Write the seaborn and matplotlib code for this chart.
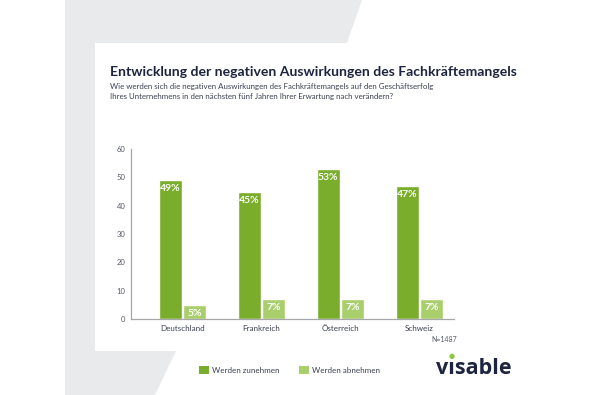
import pandas as pd
import seaborn as sns
import matplotlib.pyplot as plt
from matplotlib.patches import Polygon, Patch

# --- data ---
countries = ['Deutschland', 'Frankreich', 'Österreich', 'Schweiz']
zunehmen = [49, 45, 53, 47]
abnehmen = [5, 7, 7, 7]
series_names = ['Werden zunehmen', 'Werden abnehmen']

DARK = '#7aad2b'
LIGHT = '#a9cf6c'
NAVY = '#1c2440'
GRAY_BG = '#e9eaec'

df = pd.DataFrame({
    'Land': countries * 2,
    'Anteil': zunehmen + abnehmen,
    'Entwicklung': [series_names[0]] * len(countries) + [series_names[1]] * len(countries),
})

sns.set_theme(style='white')
plt.rcParams['font.family'] = ['Lato', 'DejaVu Sans']

W, H = 600, 395
fig = plt.figure(figsize=(W / 100, H / 100), dpi=100)
fig.patch.set_facecolor('white')


def px(x, y):
    # pixel coords (top-left origin) -> figure fraction
    return (x / W, 1 - y / H)


# gray frame shape behind the white card
frame = [(65, 0), (362, 0), (347, 43), (95, 43), (95, 351), (176, 351), (155, 395), (65, 395)]
fig.patches.append(Polygon([px(*p) for p in frame], closed=True, transform=fig.transFigure,
                           facecolor=GRAY_BG, edgecolor='none', zorder=0))

# --- title block ---
fig.text(*px(110, 72), 'Entwicklung der negativen Auswirkungen des Fachkräftemangels',
         fontsize=10.1, fontweight='bold', color=NAVY, va='center', ha='left')
fig.text(*px(110, 87), 'Wie werden sich die negativen Auswirkungen des Fachkräftemangels auf den Geschäftserfolg',
         fontsize=5.7, color='#3b4052', va='center', ha='left')
fig.text(*px(110, 97), 'Ihres Unternehmens in den nächsten fünf Jahren Ihrer Erwartung nach verändern?',
         fontsize=5.7, color='#3b4052', va='center', ha='left')

# --- bar chart ---
left, top = px(131, 149)
right, bottom = px(454, 319)
ax = fig.add_axes([left, bottom, right - left, top - bottom])
ax.set_facecolor('none')

sns.barplot(data=df, x='Land', y='Anteil', hue='Entwicklung', palette=[DARK, LIGHT],
            width=0.62, gap=0.07, saturation=1, legend=False, ax=ax)

for cont in ax.containers:
    ax.bar_label(cont, labels=[f'{v:g}%' for v in cont.datavalues], padding=-9.5,
                 color='white', fontsize=7.5, fontweight='bold')

ax.set_ylim(0, 60)
ax.set_xlim(-0.652, 3.437)
ax.set_yticks(range(0, 61, 10))
ax.set_xlabel('')
ax.set_ylabel('')
sns.despine(ax=ax)
for s in ['left', 'bottom']:
    ax.spines[s].set_color('#a5a7ab')
    ax.spines[s].set_linewidth(0.9)
ax.tick_params(axis='y', direction='in', length=6.5, width=0.8, color='#a5a7ab',
               labelsize=5.5, labelcolor='#555a66', pad=4)
ax.tick_params(axis='x', length=0, labelsize=5.8, labelcolor='#3b4052', pad=4.5)

fig.text(*px(457, 340), 'N=1487', fontsize=5, color='#555a66', ha='right', va='center')

# --- legend ---
handles = [Patch(facecolor=DARK, edgecolor='none'), Patch(facecolor=LIGHT, edgecolor='none')]
fig.legend(handles, series_names, loc='center left', bbox_to_anchor=px(192, 370), ncol=2,
           frameon=False, fontsize=5.8, handlelength=1.25, handleheight=1.25,
           handletextpad=0.35, columnspacing=2.4, labelcolor='#3b4052')

# --- logo ---
fig.text(*px(436, 369), 'vısable', fontsize=15.5, fontweight='bold', color=NAVY,
         ha='left', va='center', family=['Open Sans', 'DejaVu Sans'])
fig.text(*px(452, 356), '●', fontsize=5, color='#8dc63f', ha='center', va='center',
         family=['DejaVu Sans'])

fig.savefig('out.png', dpi=100)
